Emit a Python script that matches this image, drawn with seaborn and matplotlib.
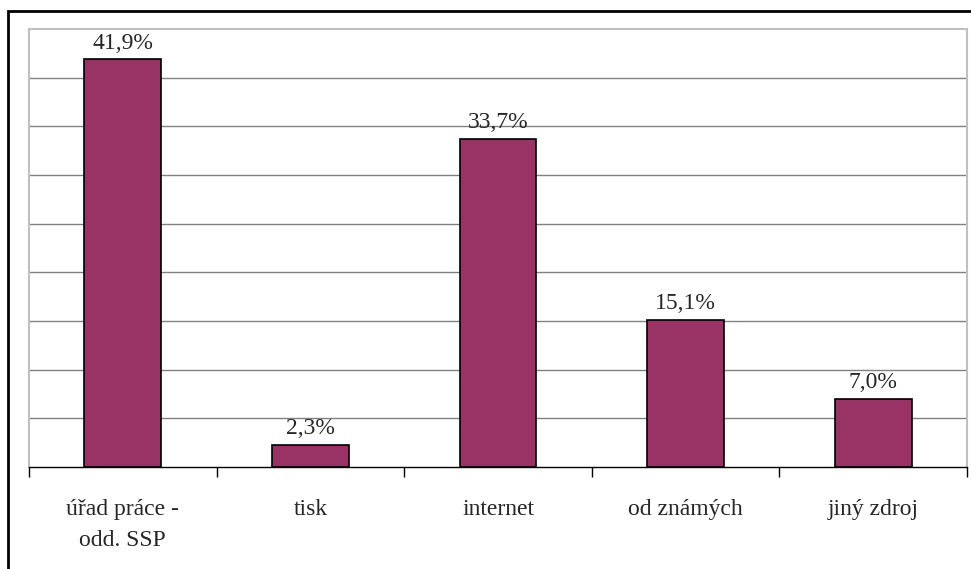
import seaborn as sns
import pandas as pd
import numpy as np
import matplotlib.pyplot as plt
from matplotlib.patches import Rectangle

categories = ["úřad práce -\nodd. SSP", "tisk", "internet", "od známých", "jiný zdroj"]
values = [41.9, 2.3, 33.7, 15.1, 7.0]
value_labels = ["41,9%", "2,3%", "33,7%", "15,1%", "7,0%"]

sns.set_style("white")
plt.rcParams['font.family'] = ['Liberation Serif', 'DejaVu Serif']

df = pd.DataFrame({"zdroj": categories, "podil": values})

fig = plt.figure(figsize=(9.71, 5.69), dpi=100)
ax = fig.add_axes([29/971, 1 - 467/569, (967 - 29)/971, (467 - 29)/569])

sns.barplot(data=df, x="zdroj", y="podil", color="#993366", saturation=1,
            width=0.41, edgecolor="black", linewidth=1.2, ax=ax, zorder=3)

ax.set_ylim(0, 45)
ax.set_xlim(-0.5, len(categories) - 0.5)
ax.set_yticks(np.arange(5, 45, 5))
ax.yaxis.grid(True, color="#808080", linewidth=1)
ax.set_axisbelow(True)
ax.tick_params(axis="y", left=False, labelleft=False)
ax.tick_params(axis="x", which="major", length=0, pad=23, labelsize=17)
ax.set_xticks(np.arange(-0.5, len(categories), 1), minor=True)
ax.tick_params(axis="x", which="minor", bottom=True, length=7, width=1,
               color="black", direction="out")
for t in ax.get_xticklabels():
    t.set_linespacing(1.6)
ax.set_xlabel("")
ax.set_ylabel("")

for side in ["left", "top", "right"]:
    ax.spines[side].set_color("#c0c0c0")
    ax.spines[side].set_linewidth(1.5)
ax.spines["bottom"].set_color("black")
ax.spines["bottom"].set_linewidth(1)

for i, (v, lab) in enumerate(zip(values, value_labels)):
    ax.annotate(lab, (i, v), xytext=(0, 4), textcoords="offset points",
                ha="center", va="bottom", fontsize=17)

fig.add_artist(Rectangle((8/971, -0.1), 1.1, 1 - 11/569 + 0.1, transform=fig.transFigure,
                         fill=False, edgecolor="black", linewidth=2, clip_on=False))

fig.savefig("out.png", dpi=100)
